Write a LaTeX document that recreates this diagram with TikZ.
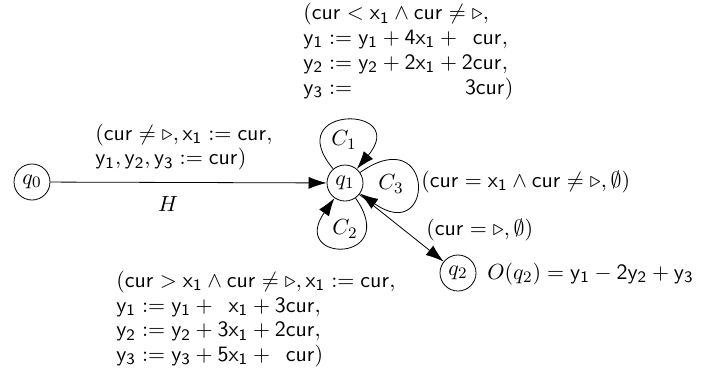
\documentclass[tikz,border=0pt]{standalone}
\usetikzlibrary{arrows.meta}
\begin{document}
\begin{tikzpicture}[x=0.5pt,y=-0.5pt,
  font=\fontsize{10.8}{12.4}\selectfont,
  state/.style={circle,draw,minimum size=18pt,inner sep=1pt},
  lbl/.style={inner sep=0pt},
  blk/.style={inner sep=0pt,align=left},
  tip/.style={-{Latex[length=9pt,width=6pt]}}]
\useasboundingbox (0,0) rectangle (711,376);
\node[state] (q0) at (32,182) {$q_0$};
\node[state] (q1) at (345,183) {$q_1$};
\node[state] (q2) at (458,273) {$q_2$};
\draw[tip] (q0) -- (q1);
\draw[tip] (q1) to[out=130,in=50,distance=42pt] (q1);
\draw[tip] (q1) to[out=35,in=-35,distance=46pt] (q1);
\draw[tip] (q1) to[out=-55,in=-125,distance=40pt] (q1);
\draw[tip] (q1) -- (q2);
\node[lbl] (c1) at (344,140) {$C_1$};
\node[lbl] (c3) at (391,184) {$C_3$};
\node[lbl] (c2) at (345,229) {$C_2$};
\node[lbl] (h) at (168,204) {$H$};
\node[blk,anchor=west] (l01) at (95,147) {$\mathsf{(cur \neq \triangleright, x_1 := cur,}$\\ $\mathsf{y_1, y_2, y_3 := cur)}$};
\node[blk,anchor=north west] (top) at (303,3) {$\mathsf{(cur < x_1 \wedge cur \neq \triangleright,}$\\
 $\mathsf{y_1 := y_1 + 4x_1 + \phantom{2}cur,}$\\
 $\mathsf{y_2 := y_2 + 2x_1 + 2cur,}$\\
 $\mathsf{y_3 := \phantom{y_2 + 2x_1 + {}}3cur)}$};
\node[blk,anchor=west] (bot) at (116,319) {$\mathsf{(cur > x_1 \wedge cur \neq \triangleright, x_1 := cur,}$\\
 $\mathsf{y_1 := y_1 + \phantom{3}x_1 + 3cur,}$\\
 $\mathsf{y_2 := y_2 + 3x_1 + 2cur,}$\\
 $\mathsf{y_3 := y_3 + 5x_1 + \phantom{2}cur)}$};
\node[lbl,anchor=west] (l3) at (421,182) {$\mathsf{(cur = x_1 \wedge cur \neq \triangleright, \emptyset)}$};
\node[lbl,anchor=west] (l12) at (426,230) {$\mathsf{(cur = \triangleright, \emptyset)}$};
\node[lbl,anchor=west] (out) at (487,274) {$O(q_2) = \mathsf{y_1 - 2y_2 + y_3}$};
\end{tikzpicture}
\end{document}
